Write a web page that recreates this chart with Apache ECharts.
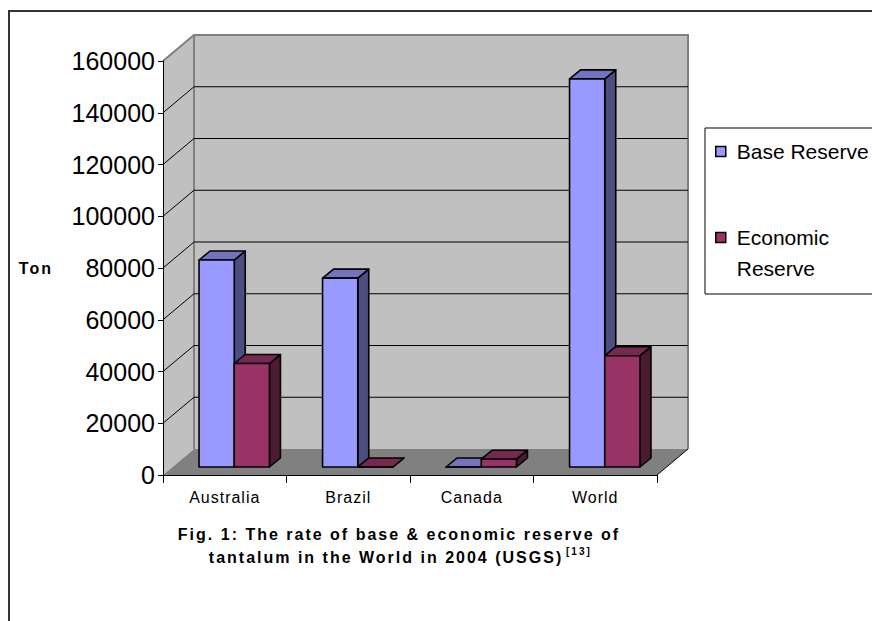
<!DOCTYPE html>
<html>
  <head>
    <meta charset="utf-8" />
    <title>Tantalum reserves 2004</title>
    <script src="https://cdn.jsdelivr.net/npm/echarts@6.0.0/dist/echarts.min.js"></script>
    <style>
      body { margin: 0; background: #fff; }
      /* zrender has no letter-spacing, so set it on the svg text */
      #main text[style*="16px"] { letter-spacing: 1px; }
      #main text[style*="bold"] { letter-spacing: 2px; }
    </style>
  </head>
  <body>
    <div id="main" style="width: 872px; height: 621px"></div>
    <script type="text/javascript">
      // data
      var countries = ["Australia", "Brazil", "Canada", "World"];
      var baseReserve = [80000, 73000, 0, 150000];
      var economicReserve = [40000, 0, 3000, 43000];
      var yTicks = [0, 20000, 40000, 60000, 80000, 100000, 120000, 140000, 160000];

      var FONT = "Liberation Sans";

      // fake 3d: back wall offset and bar placement/depth
      var DX = 31, DY = -26;
      var BAR_OX = 9.5, BAR_OY = -8;
      var BAR_DX = 11, BAR_DY = -9;
      var BAR_FRAC = 0.285;

      var myChart = echarts.init(document.getElementById("main"), null, { renderer: "svg" });

      function renderWalls(params, api) {
        var cs = params.coordSys;
        var x0 = cs.x, x1 = cs.x + cs.width, y0 = cs.y, y1 = cs.y + cs.height;
        return {
          type: "group",
          children: [
            { type: "polygon", shape: { points: [[x0 + DX, y0 + DY], [x1 + DX, y0 + DY], [x1 + DX, y1 + DY], [x0 + DX, y1 + DY]] },
              style: { fill: "#c0c0c0" } },
            { type: "polygon", shape: { points: [[x0, y0], [x0 + DX, y0 + DY], [x0 + DX, y1 + DY], [x0, y1]] },
              style: { fill: "#c0c0c0" } },
            { type: "polygon", shape: { points: [[x0, y1], [x1, y1], [x1 + DX, y1 + DY], [x0 + DX, y1 + DY]] },
              style: { fill: "#808080" } },
            { type: "polyline", shape: { points: [[x0, y0], [x0 + DX, y0 + DY], [x1 + DX, y0 + DY], [x1 + DX, y1 + DY]] },
              style: { stroke: "#808080", lineWidth: 2, fill: null } },
            { type: "line", shape: { x1: x0 + DX, y1: y0 + DY, x2: x0 + DX, y2: y1 + DY },
              style: { stroke: "#808080", lineWidth: 2 } },
            { type: "line", shape: { x1: x1, y1: y1, x2: x1 + DX, y2: y1 + DY },
              style: { stroke: "#000", lineWidth: 1 } }
          ]
        };
      }

      function renderGrid(params, api) {
        var v = api.value(0);
        if (v === yTicks[0] || v === yTicks[yTicks.length - 1]) return null;
        var cs = params.coordSys;
        var y = api.coord([0, v])[1];
        return {
          type: "polyline",
          shape: { points: [[cs.x, y], [cs.x + DX, y + DY], [cs.x + cs.width + DX, y + DY]] },
          style: { stroke: "#000", lineWidth: 1, fill: null }
        };
      }

      function barRenderer(slot, front, top, side) {
        return function (params, api) {
          var idx = api.value(0);
          var bottomPt = api.coord([idx, 0]);
          var topPt = api.coord([idx, api.value(1)]);
          var w = api.size([1, 0])[0] * BAR_FRAC;
          var l = bottomPt[0] + BAR_OX + (slot - 1) * w;
          var r = l + w;
          var yb = bottomPt[1] + BAR_OY;
          var yt = topPt[1] + BAR_OY;
          var edge = { stroke: "#000", lineWidth: 1.6, lineJoin: "round" };
          return {
            type: "group",
            children: [
              { type: "polygon", shape: { points: [[r, yt], [r + BAR_DX, yt + BAR_DY], [r + BAR_DX, yb + BAR_DY], [r, yb]] },
                style: Object.assign({ fill: side }, edge) },
              { type: "polygon", shape: { points: [[l, yt], [l + BAR_DX, yt + BAR_DY], [r + BAR_DX, yt + BAR_DY], [r, yt]] },
                style: Object.assign({ fill: top }, edge) },
              { type: "polygon", shape: { points: [[l, yt], [r, yt], [r, yb], [l, yb]] },
                style: Object.assign({ fill: front }, edge) }
            ]
          };
        };
      }

      var option = {
        backgroundColor: "#fff",
        animation: false,
        grid: { left: 163, top: 61, width: 494, height: 414, outerBoundsMode: "none" },
        legend: {
          orient: "vertical",
          left: 705,
          top: 128,
          padding: [8, 30, 10, 10],
          itemGap: 24,
          itemWidth: 10,
          itemHeight: 10,
          icon: "rect",
          itemStyle: { borderColor: "#000", borderWidth: 1.5 },
          borderColor: "#000",
          borderWidth: 1,
          selectedMode: false,
          textStyle: { fontFamily: FONT, fontSize: 21, color: "#000", lineHeight: 31, padding: [0, 0, 0, 6] },
          formatter: function (name) {
            return name === "Economic Reserve" ? "\nEconomic\nReserve" : name;
          },
          data: ["Base Reserve", "Economic Reserve"]
        },
        xAxis: {
          type: "category",
          data: countries,
          z: 5,
          axisLine: { lineStyle: { color: "#000", width: 1 } },
          axisTick: { show: true, length: 8, lineStyle: { color: "#000" } },
          axisLabel: { color: "#000", fontFamily: FONT, fontSize: 16, margin: 14 },
          splitLine: { show: false }
        },
        yAxis: {
          type: "value",
          min: yTicks[0],
          max: yTicks[yTicks.length - 1],
          interval: yTicks[1] - yTicks[0],
          z: 5,
          name: "Ton",
          nameLocation: "middle",
          nameRotate: 0,
          nameGap: 110,
          nameTextStyle: { color: "#000", fontFamily: FONT, fontSize: 16, fontWeight: "bold" },
          axisLine: { show: true, lineStyle: { color: "#000", width: 1 } },
          axisTick: { show: true, length: 5, lineStyle: { color: "#000" } },
          axisLabel: {
            color: "#000", fontFamily: FONT, fontSize: 25, margin: 8,
            formatter: function (v) { return String(v); }
          },
          splitLine: { show: false }
        },
        graphic: [
          { type: "rect", z: -10, shape: { x: 9, y: 11, width: 900, height: 700 },
            style: { fill: null, stroke: "#333", lineWidth: 2 } },
          { type: "text", x: 399, y: 534,
            style: { text: "Fig. 1: The rate of base & economic reserve of", font: "bold 16px " + FONT,
              fill: "#000", align: "center", verticalAlign: "middle" } },
          { type: "text", x: 386, y: 557,
            style: { text: "tantalum in the World in 2004 (USGS)", font: "bold 16px " + FONT,
              fill: "#000", align: "center", verticalAlign: "middle" } },
          { type: "text", x: 566, y: 551,
            style: { text: "[13]", font: "bold 10px " + FONT,
              fill: "#000", align: "left", verticalAlign: "middle" } }
        ],
        series: [
          { type: "custom", name: "walls", z: 1, silent: true, renderItem: renderWalls, data: [0] },
          { type: "custom", name: "grid", z: 1, silent: true, renderItem: renderGrid,
            encode: { y: 0 }, data: yTicks },
          { type: "custom", name: "Base Reserve", z: 2, itemStyle: { color: "#9999ff" },
            renderItem: barRenderer(0, "#9999ff", "#7373c0", "#4d4d80"),
            data: baseReserve.map(function (v, i) { return [i, v]; }) },
          { type: "custom", name: "Economic Reserve", z: 2, itemStyle: { color: "#993366" },
            renderItem: barRenderer(1, "#993366", "#772850", "#4d1a33"),
            data: economicReserve.map(function (v, i) { return [i, v]; }) }
        ]
      };

      myChart.setOption(option);
    </script>
  </body>
</html>
